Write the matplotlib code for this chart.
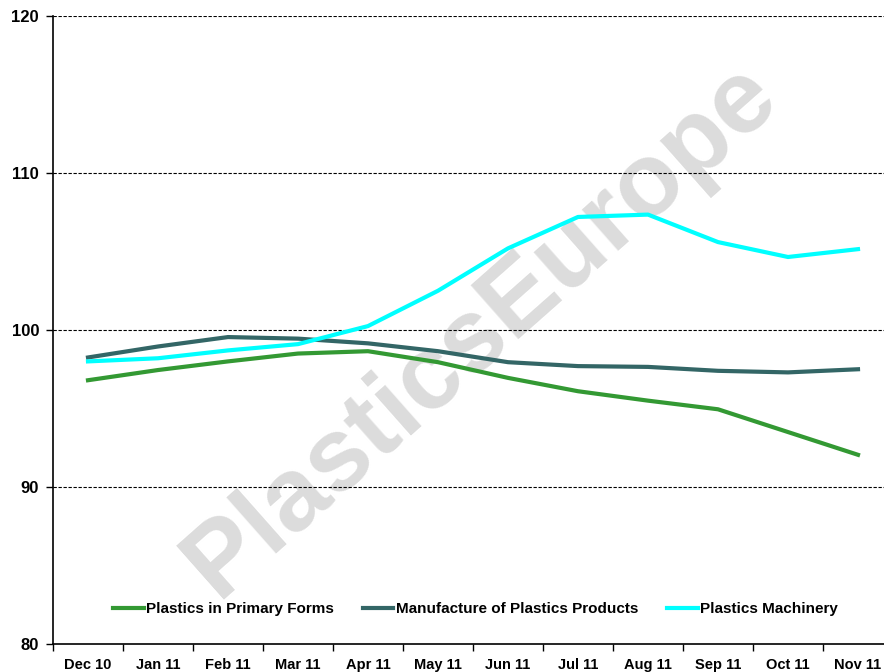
import matplotlib
matplotlib.use("Agg")
import matplotlib.pyplot as plt
import numpy as np

plt.rcParams['font.family'] = ['Liberation Sans', 'DejaVu Sans']

months = ["Dec 10", "Jan 11", "Feb 11", "Mar 11", "Apr 11", "May 11",
          "Jun 11", "Jul 11", "Aug 11", "Sep 11", "Oct 11", "Nov 11"]
primary_forms = [96.8, 97.45, 98.0, 98.5, 98.65, 97.95, 96.95, 96.1, 95.5, 94.95, 93.5, 92.05]
manufacture = [98.25, 98.95, 99.55, 99.45, 99.15, 98.65, 97.95, 97.7, 97.65, 97.4, 97.3, 97.5]
machinery = [98.0, 98.2, 98.7, 99.1, 100.25, 102.5, 105.2, 107.2, 107.35, 105.6, 104.65, 105.15]
yticks = [80, 90, 100, 110, 120]

W, H = 884, 672
fig = plt.figure(figsize=(W / 100, H / 100), dpi=100)
ax = fig.add_axes([53 / W, 28 / H, 840 / W, 628 / H])

x = np.arange(len(months))
ax.plot(x, primary_forms, color="#339933", lw=3, label="Plastics in Primary Forms", zorder=3)
ax.plot(x, manufacture, color="#336666", lw=3, label="Manufacture of Plastics Products", zorder=3)
ax.plot(x, machinery, color="#00FFFF", lw=3, label="Plastics Machinery", zorder=3)

ax.set_xlim(-0.5, len(months) - 0.5)
ax.set_ylim(80, 120)
ax.set_yticks(yticks)
ax.set_yticklabels([str(v) for v in yticks], fontsize=12, fontweight="bold")
ax.set_xticks(x)
ax.set_xticklabels(months, fontsize=10.5, fontweight="bold")
ax.set_xticks(np.arange(-0.5, len(months)), minor=True)
ax.tick_params(axis="x", which="major", length=0, pad=10)
ax.tick_params(axis="x", which="minor", length=5, width=1, direction="out")
ax.tick_params(axis="y", length=5, width=1, direction="out", pad=5)

for v in yticks[1:]:
    ax.axhline(v, color="black", lw=0.8, ls=(0, (3, 1.5)), zorder=1)

ax.spines["top"].set_visible(False)
ax.spines["right"].set_visible(False)
ax.spines["left"].set_linewidth(1.2)
ax.spines["bottom"].set_linewidth(1.2)

ax.text(0.51, 0.50, "PlasticsEurope", transform=ax.transAxes, rotation=41.5,
        fontsize=75, fontweight="bold", color="#DCDCDC", ha="center", va="center",
        zorder=0)

leg = ax.legend(loc="lower center", bbox_to_anchor=(0.503, 0.022), ncol=3, frameon=False,
                prop={"size": 11, "weight": "bold"}, handlelength=2.0,
                handletextpad=0.15, columnspacing=1.9)

fig.savefig("out.png", dpi=100)
